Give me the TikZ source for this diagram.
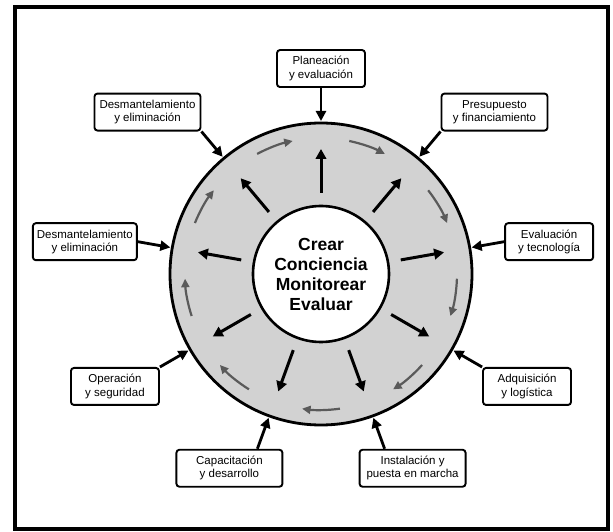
\documentclass[tikz,border=0pt]{standalone}
\usepackage{fontspec}
\setmainfont{Liberation Sans}
\usepackage{tikz}
\usetikzlibrary{arrows.meta}
\definecolor{cRing}{HTML}{D2D2D2}
\definecolor{cFlow}{HTML}{5A5A5A}

\begin{document}
\begin{tikzpicture}[x=1pt,y=1pt,
  box/.style={draw,line width=1.9pt,rounded corners=3pt,fill=white,align=center,
    minimum width=88pt,minimum height=37pt,inner sep=2pt,
    font=\fontsize{11.5}{13.3}\selectfont},
  widebox/.style={box,minimum width=106pt},
  feed/.style={line width=2.8pt,-{Triangle[length=10pt,width=10pt]}},
  spoke/.style={line width=3pt,-{Triangle[length=10pt,width=10.5pt]}},
  flow/.style={cFlow,line width=2.2pt,-{Triangle[length=8.5pt,width=8pt]}},
  core/.style={circle,draw,line width=2.6pt,fill=white,minimum size=136pt,align=center,
    inner sep=0pt,font=\fontsize{17.5}{20}\bfseries}]
  \useasboundingbox (-321,-258) rectangle (292,274);
  \draw[line width=3.5pt] (-306,267) rectangle (287,-255);

  % ring with the cycle running round it
  \draw[line width=2.8pt,fill=cRing] (0,0) circle (151);
  \foreach \a in {90,50,...,-230}
    \draw[spoke] (\a:81) -- (\a:125);
  \foreach \m in {110,70,...,-210}
    \draw[flow] ({\m+8}:136) arc[start angle=\m+8,end angle=\m-8,radius=136];
  \node[core] (core) at (0,0) {Crear\\Conciencia\\Monitorear\\Evaluar};

  % points where the feeds reach the ring
  \coordinate (hitPlan) at (90:153);
  \coordinate (hitPres) at (50:153);
  \coordinate (hitEval) at (10:153);
  \coordinate (hitAdq) at (-30:153);
  \coordinate (hitInst) at (-70:153);
  \coordinate (hitCap) at (-110:153);
  \coordinate (hitOper) at (-150:153);
  \coordinate (hitDesL) at (170:153);
  \coordinate (hitDesU) at (130:153);

  % stages
  \node[box,anchor=south] (plan) at (90:186) {Planeación\\y evaluación};
  \node[widebox,anchor=south west] (pres) at (50:186) {Presupuesto\\y financiamiento};
  \node[box,anchor=west] (eval) at (10:186) {Evaluación\\y tecnología};
  \node[box,anchor=north west] (adq) at (-30:186) {Adquisición\\y logística};
  \node[widebox,anchor=north west,xshift=-26pt] (inst) at (-70:186) {Instalación y\\puesta en marcha};
  \node[widebox,anchor=north east,xshift=26pt] (cap) at (-110:186) {Capacitación\\y desarrollo};
  \node[box,anchor=north east] (oper) at (-150:186) {Operación\\y seguridad};
  \node[widebox,anchor=east,minimum width=104pt] (desL) at (170:186) {Desmantelamiento\\y eliminación};
  \node[widebox,anchor=south east] (desU) at (130:186) {Desmantelamiento\\y eliminación};

  \draw[feed] (plan.south) -- (hitPlan);
  \draw[feed] (pres.south west) -- (hitPres);
  \draw[feed] (eval.west) -- (hitEval);
  \draw[feed] (adq.north west) -- (hitAdq);
  \draw[feed] ([xshift=26pt]inst.north west) -- (hitInst);
  \draw[feed] ([xshift=-26pt]cap.north east) -- (hitCap);
  \draw[feed] (oper.north east) -- (hitOper);
  \draw[feed] (desL.east) -- (hitDesL);
  \draw[feed] (desU.south east) -- (hitDesU);
\end{tikzpicture}
\end{document}
